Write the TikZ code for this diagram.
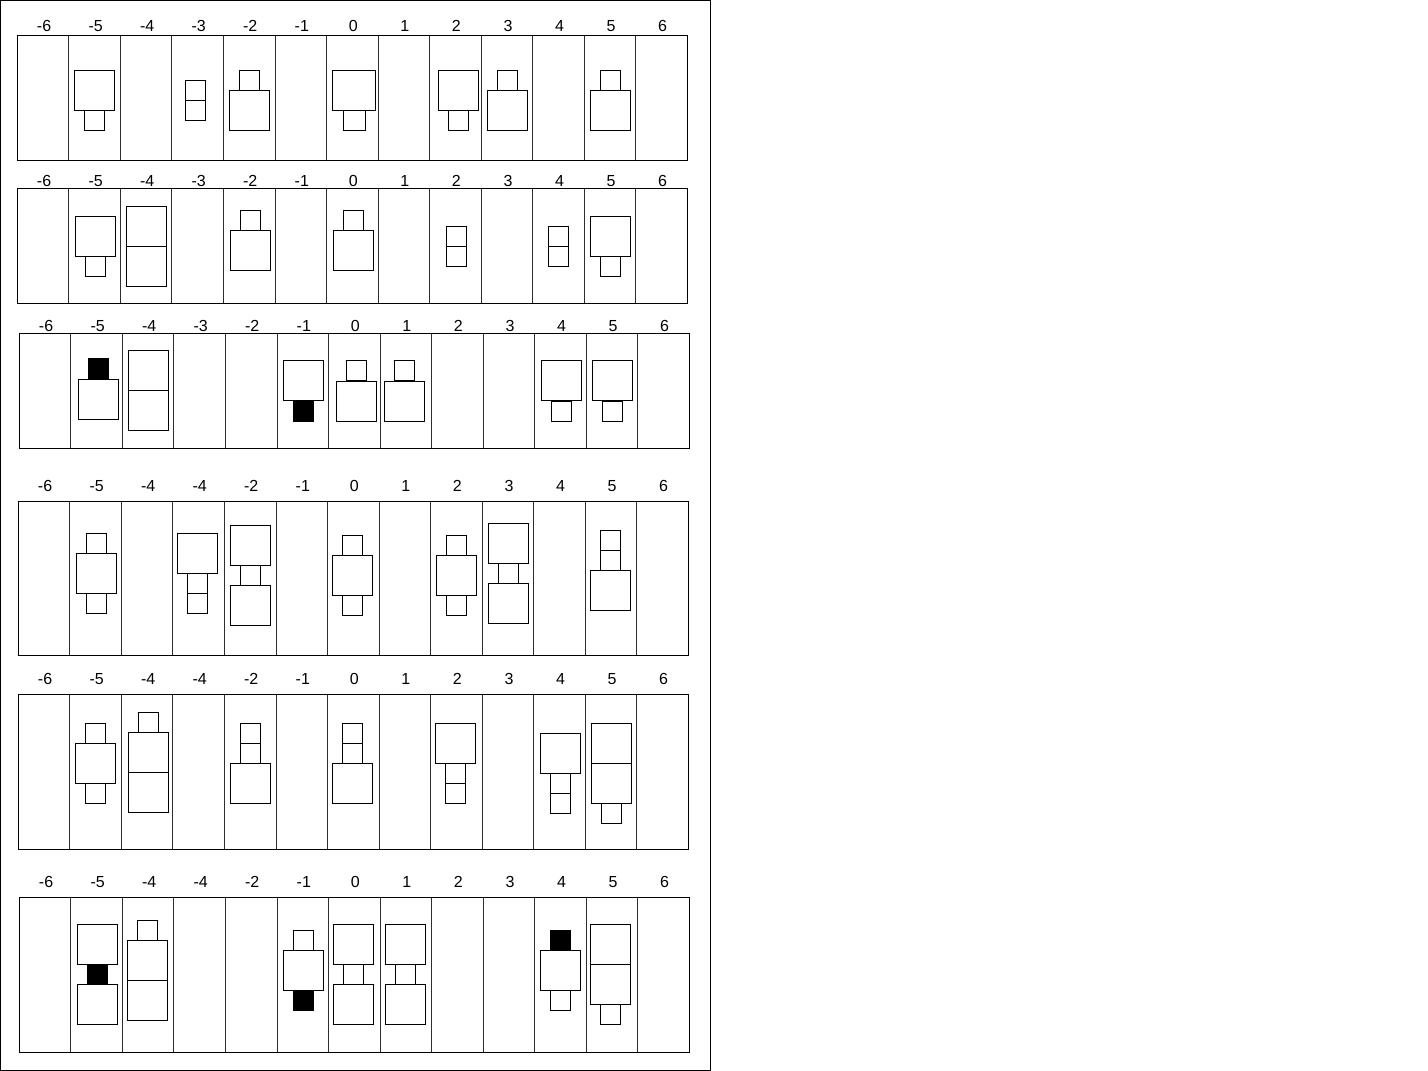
\documentclass[tikz,border=0pt]{standalone}
\usepackage{fontspec}
\setmainfont{Liberation Sans}
\usetikzlibrary{shapes.geometric}
\tikzstyle{frame} = [draw=black, line width=1pt]
\tikzstyle{panel} = [draw=black, line width=1pt]
\tikzstyle{divider} = [draw=black!82, line width=1pt]
\tikzstyle{bigsq} = [rectangle, draw=black, fill=white, line width=1pt, minimum width=40pt, minimum height=40pt, inner sep=0pt, outer sep=0pt]
\tikzstyle{smallsq} = [rectangle, draw=black, fill=white, line width=1pt, minimum width=20pt, minimum height=20pt, inner sep=0pt, outer sep=0pt]
\tikzstyle{blacksq} = [smallsq, fill=black]
\tikzstyle{lbl} = [rectangle, inner sep=0pt, anchor=base, font=\fontsize{16}{19}\selectfont]

\begin{document}
\begin{tikzpicture}[x=1pt, y=-1pt]
        \useasboundingbox (0,0) rectangle (1428,1071);
        \draw[frame] (0.5,0.5) rectangle (710,1070);

        % six strips, 13 cells each
        \foreach \r/\xo/\yt/\yb/\yl/\m in {1/17.3/35/160/31.6/-3, 2/17.3/188.3/303/186.1/-3, 3/19.3/333.3/448.3/331.1/-3, 4/18.3/501.7/655.7/491.5/-4, 5/18.3/694/849.3/684.6/-4, 6/19.3/897.3/1052.3/887.6/-4}
        {
          \foreach \k in {1,...,12}
          {\draw[divider] (\xo+\k*51.54,\yt) -- (\xo+\k*51.54,\yb);}
          \draw[panel] (\xo,\yt) rectangle (\xo+670,\yb);
          \foreach \t [count=\k from 0] in {-6,-5,-4,\m,-2,-1,0,1,2,3,4,5,6}
          {\node[lbl] (l\r-\k) at (\xo+26.8+\k*51.54,\yl) {\t};}
        }

        % strip 1
        \node[bigsq] (r1c1a) at (94.2,90.3) {};
        \node[smallsq] (r1c1b) at (94.3,120.3) {};
        \node[smallsq] (r1c3a) at (195.5,90.3) {};
        \node[smallsq] (r1c3b) at (195.5,110.3) {};
        \node[smallsq] (r1c4a) at (249.5,80.3) {};
        \node[bigsq] (r1c4b) at (249.3,110.3) {};
        \node[bigsq, minimum width=43pt] (r1c6a) at (354.2,90.3) {};
        \node[smallsq, minimum width=22pt] (r1c6b) at (354.3,120.3) {};
        \node[bigsq] (r1c8a) at (458.3,90.3) {};
        \node[smallsq] (r1c8b) at (458.3,120.3) {};
        \node[smallsq] (r1c9a) at (507.7,80.3) {};
        \node[bigsq] (r1c9b) at (507.5,110.3) {};
        \node[smallsq] (r1c11a) at (610.3,80.3) {};
        \node[bigsq] (r1c11b) at (610.5,110.3) {};

        % strip 2
        \node[bigsq] (r2c1a) at (95.3,236.2) {};
        \node[smallsq] (r2c1b) at (95.3,266.3) {};
        \node[bigsq] (r2c2a) at (146.3,226.3) {};
        \node[bigsq] (r2c2b) at (146.3,266.3) {};
        \node[smallsq] (r2c4a) at (250.3,220) {};
        \node[bigsq] (r2c4b) at (250.3,250.2) {};
        \node[smallsq] (r2c6a) at (353.3,220) {};
        \node[bigsq] (r2c6b) at (353.5,250.2) {};
        \node[smallsq] (r2c8a) at (456.3,236.3) {};
        \node[smallsq] (r2c8b) at (456.3,256.3) {};
        \node[smallsq] (r2c10a) at (558.3,236.3) {};
        \node[smallsq] (r2c10b) at (558.3,256.3) {};
        \node[bigsq] (r2c11a) at (610.5,236.2) {};
        \node[smallsq] (r2c11b) at (610.3,266.3) {};

        % strip 3
        \node[blacksq] (r3c1a) at (98.3,368.7) {};
        \node[bigsq] (r3c1b) at (98.3,399) {};
        \node[bigsq] (r3c2a) at (148.5,370.7) {};
        \node[bigsq] (r3c2b) at (148.5,410.8) {};
        \node[bigsq] (r3c5a) at (303.3,380.7) {};
        \node[blacksq] (r3c5b) at (303.5,411) {};
        \node[smallsq] (r3c6a) at (356.3,370.7) {};
        \node[bigsq] (r3c6b) at (356.3,401) {};
        \node[smallsq] (r3c7a) at (404.5,370.7) {};
        \node[bigsq] (r3c7b) at (404.5,401) {};
        \node[bigsq] (r3c10a) at (561.3,380.7) {};
        \node[smallsq] (r3c10b) at (561.3,411) {};
        \node[bigsq] (r3c11a) at (612.5,380.7) {};
        \node[smallsq] (r3c11b) at (612.3,411) {};

        % strip 4
        \node[smallsq] (r4c1a) at (96.5,543) {};
        \node[bigsq] (r4c1b) at (96.5,573) {};
        \node[smallsq] (r4c1c) at (96.5,603.2) {};
        \node[bigsq] (r4c3a) at (197.2,553) {};
        \node[smallsq] (r4c3b) at (197.3,583.2) {};
        \node[smallsq] (r4c3c) at (197.3,603.3) {};
        \node[bigsq] (r4c4a) at (250.3,545) {};
        \node[smallsq] (r4c4b) at (250.3,575.2) {};
        \node[bigsq] (r4c4c) at (250.3,605.2) {};
        \node[smallsq] (r4c6a) at (352.5,545.3) {};
        \node[bigsq] (r4c6b) at (352.5,575.3) {};
        \node[smallsq] (r4c6c) at (352.5,605.3) {};
        \node[smallsq] (r4c8a) at (456.3,545.3) {};
        \node[bigsq] (r4c8b) at (456.3,575.3) {};
        \node[smallsq] (r4c8c) at (456.3,605.3) {};
        \node[bigsq] (r4c9a) at (508.3,543.3) {};
        \node[smallsq] (r4c9b) at (508.3,573.3) {};
        \node[bigsq] (r4c9c) at (508.3,603.3) {};
        \node[smallsq] (r4c11a) at (610.3,540.3) {};
        \node[smallsq] (r4c11b) at (610.3,560.3) {};
        \node[bigsq] (r4c11c) at (610.5,590.3) {};

        % strip 5
        \node[smallsq] (r5c1a) at (95.3,733.3) {};
        \node[bigsq] (r5c1b) at (95.3,763.3) {};
        \node[smallsq] (r5c1c) at (95.3,793.3) {};
        \node[smallsq] (r5c2a) at (148.3,722.3) {};
        \node[bigsq] (r5c2b) at (148.3,752.3) {};
        \node[bigsq] (r5c2c) at (148.3,792.3) {};
        \node[smallsq] (r5c4a) at (250.3,733.3) {};
        \node[smallsq] (r5c4b) at (250.3,753.3) {};
        \node[bigsq] (r5c4c) at (250.3,783.3) {};
        \node[smallsq] (r5c6a) at (352.5,733.3) {};
        \node[smallsq] (r5c6b) at (352.5,753.3) {};
        \node[bigsq] (r5c6c) at (352.5,783.3) {};
        \node[bigsq] (r5c8a) at (455.3,743.3) {};
        \node[smallsq] (r5c8b) at (455.3,773.3) {};
        \node[smallsq] (r5c8c) at (455.3,793.3) {};
        \node[bigsq] (r5c10a) at (560.3,753.3) {};
        \node[smallsq] (r5c10b) at (560.3,783.3) {};
        \node[smallsq] (r5c10c) at (560.3,803.3) {};
        \node[bigsq] (r5c11a) at (611.3,743.3) {};
        \node[bigsq] (r5c11b) at (611.3,783.3) {};
        \node[smallsq] (r5c11c) at (611.3,813.3) {};

        % strip 6
        \node[bigsq] (r6c1a) at (97.3,944.3) {};
        \node[blacksq] (r6c1b) at (97.5,974.3) {};
        \node[bigsq] (r6c1c) at (97.3,1004.3) {};
        \node[smallsq] (r6c2a) at (147.3,930.3) {};
        \node[bigsq] (r6c2b) at (147.3,960.3) {};
        \node[bigsq] (r6c2c) at (147.3,1000.3) {};
        \node[smallsq] (r6c5a) at (303.3,940.3) {};
        \node[bigsq] (r6c5b) at (303.3,970.3) {};
        \node[blacksq] (r6c5c) at (303.5,1000.5) {};
        \node[bigsq] (r6c6a) at (353.5,944.3) {};
        \node[smallsq] (r6c6b) at (353.5,974.3) {};
        \node[bigsq] (r6c6c) at (353.5,1004.3) {};
        \node[bigsq] (r6c7a) at (405.3,944.3) {};
        \node[smallsq] (r6c7b) at (405.3,974.3) {};
        \node[bigsq] (r6c7c) at (405.3,1004.3) {};
        \node[blacksq] (r6c10a) at (560.5,940) {};
        \node[bigsq] (r6c10b) at (560.3,970.2) {};
        \node[smallsq] (r6c10c) at (560.3,1000.3) {};
        \node[bigsq] (r6c11a) at (610.3,944.3) {};
        \node[bigsq] (r6c11b) at (610.3,984.3) {};
        \node[smallsq] (r6c11c) at (610.3,1014.3) {};
\end{tikzpicture}
\end{document}
